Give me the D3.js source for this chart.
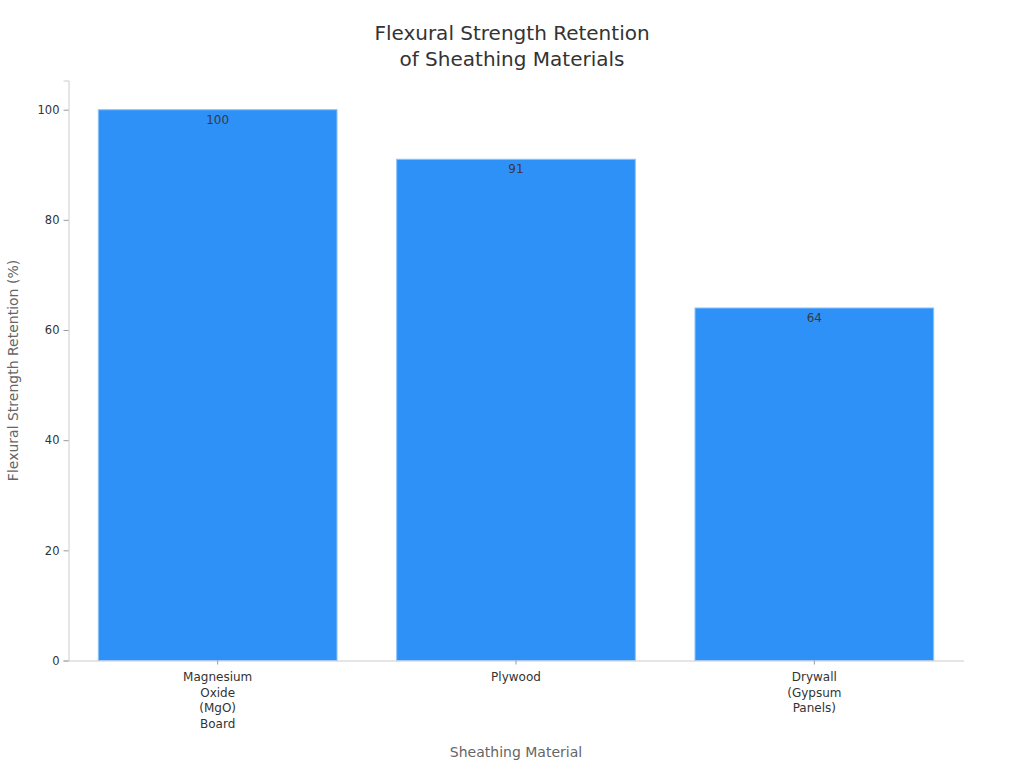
<!DOCTYPE html>
<html>
<head>
<meta charset="utf-8">
<script src="https://d3js.org/d3.v7.min.js"></script>
<style>
  body { margin: 0; background: #fff; }
  text { font-family: "DejaVu Sans", sans-serif; }
</style>
</head>
<body>
<svg id="chart" width="1024" height="768"></svg>
<script>
const materials = ["Magnesium Oxide (MgO) Board", "Plywood", "Drywall (Gypsum Panels)"];
const labelLines = [["Magnesium", "Oxide", "(MgO)", "Board"], ["Plywood"], ["Drywall", "(Gypsum", "Panels)"]];
const retention = [100, 91, 64];
const yTicks = [0, 20, 40, 60, 80, 100];

const svg = d3.select("#chart");
const plotLeft = 68.5, plotRight = 963.5, plotTop = 80.5, plotBottom = 660.5;

const x = d3.scaleBand().domain(materials).range([plotLeft, plotRight])
  .paddingInner(0.2).paddingOuter(0.1);
const y = d3.scaleLinear().domain([0, 105.3]).range([plotBottom, plotTop]);

// bars
svg.append("g").selectAll("rect")
  .data(materials)
  .join("rect")
  .attr("x", d => x(d))
  .attr("y", (d, i) => y(retention[i]))
  .attr("width", x.bandwidth())
  .attr("height", (d, i) => y(0) - y(retention[i]))
  .attr("fill", "#2e91f8")
  .attr("stroke", "#8cc3fb")
  .attr("stroke-width", 1);

// value labels
svg.append("g").selectAll("text")
  .data(materials)
  .join("text")
  .attr("x", d => x(d) + x.bandwidth() / 2)
  .attr("y", (d, i) => y(retention[i]) + 14)
  .attr("text-anchor", "middle")
  .style("font-size", "12px")
  .attr("fill", "#3a3a3a")
  .text((d, i) => retention[i]);

// y axis
const yAxis = svg.append("g")
  .attr("transform", `translate(${plotLeft},0)`)
  .call(d3.axisLeft(y).tickValues(yTicks).tickSize(5).tickPadding(4));
yAxis.select(".domain").attr("stroke", "#cccccc");
yAxis.selectAll(".tick line").attr("stroke", "#999999");
yAxis.selectAll(".tick text").style("font-size", "11.5px").attr("fill", "#333333")
  .style("font-family", "DejaVu Sans");

// x axis
const xAxis = svg.append("g")
  .attr("transform", `translate(0,${plotBottom})`)
  .call(d3.axisBottom(x).tickSize(4).tickSizeOuter(0).tickFormat(""));
xAxis.select(".domain").attr("stroke", "#cccccc");
xAxis.selectAll(".tick line").attr("stroke", "#999999");

svg.append("g").selectAll("text")
  .data(materials)
  .join("text")
  .attr("x", d => x(d) + x.bandwidth() / 2)
  .attr("y", plotBottom + 20.5)
  .attr("text-anchor", "middle")
  .style("font-size", "12px")
  .attr("fill", "#333333")
  .each(function(d, i) {
    const t = d3.select(this);
    labelLines[i].forEach((ln, j) => {
      t.append("tspan").attr("x", x(d) + x.bandwidth() / 2)
        .attr("dy", j === 0 ? 0 : 15.7).text(ln);
    });
  });

// axis titles
svg.append("text")
  .attr("x", (plotLeft + plotRight) / 2)
  .attr("y", 756.5)
  .attr("text-anchor", "middle")
  .style("font-size", "14px")
  .attr("fill", "#666666")
  .text("Sheathing Material");

svg.append("text")
  .attr("transform", "rotate(-90)")
  .attr("x", -(plotTop + plotBottom) / 2)
  .attr("y", 18)
  .attr("text-anchor", "middle")
  .style("font-size", "14px")
  .attr("fill", "#666666")
  .text("Flexural Strength Retention (%)");

// title
svg.append("text")
  .attr("x", 512)
  .attr("y", 40)
  .attr("text-anchor", "middle")
  .style("font-size", "20px")
  .attr("fill", "#333333")
  .text("Flexural Strength Retention");
svg.append("text")
  .attr("x", 512)
  .attr("y", 66)
  .attr("text-anchor", "middle")
  .style("font-size", "20px")
  .attr("fill", "#333333")
  .text("of Sheathing Materials");
</script>
</body>
</html>
